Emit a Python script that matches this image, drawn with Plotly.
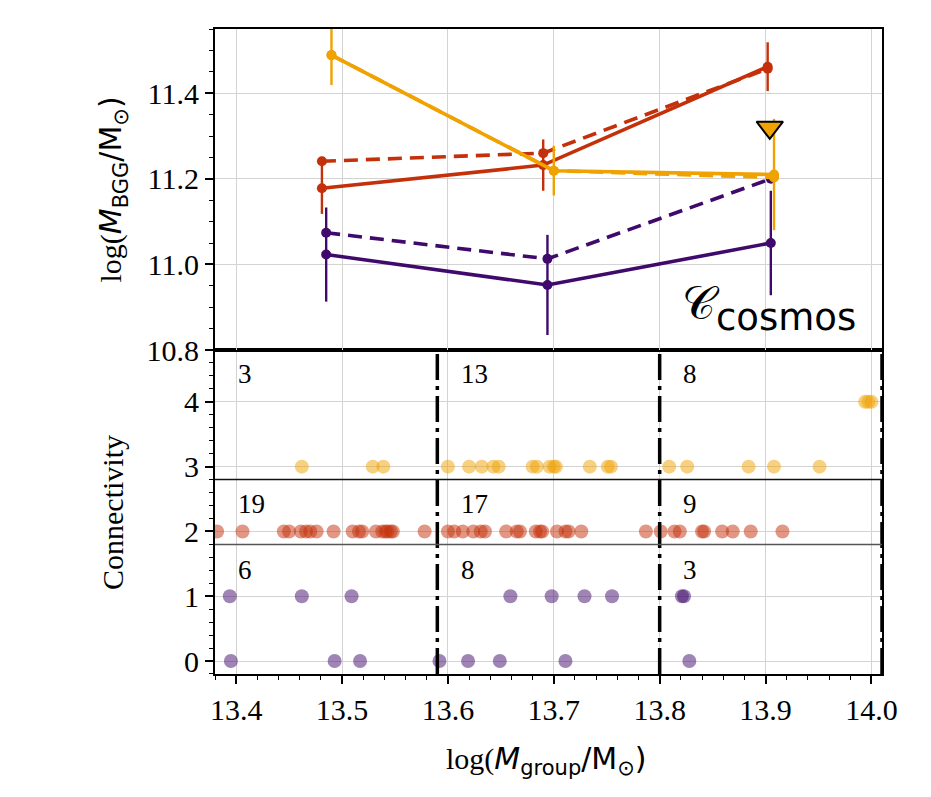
import plotly.graph_objects as go

# ---------------- data ----------------
# top panel: log M_BGG vs log M_group
purple_x = [13.485, 13.694, 13.905]
purple_solid_y = [11.023, 10.952, 11.050]
purple_solid_err = [0.110, 0.117, 0.122]
purple_dash_y = [11.074, 11.013, 11.200]

red_x = [13.481, 13.690, 13.902]
red_solid_y = [11.178, 11.232, 11.462]
red_solid_err = [0.060, 0.060, 0.057]
red_dash_y = [11.241, 11.260, 11.457]

yellow_x = [13.490, 13.700, 13.908]
yellow_solid_y = [11.489, 11.219, 11.210]
yellow_solid_err = [0.070, 0.058, 0.130]
yellow_dash_y = [11.489, 11.219, 11.203]

upper_limit_x = [13.904]
upper_limit_y = [11.320]

# bottom panel: connectivity of each group
yellow_mass = [13.462, 13.529, 13.539, 13.600, 13.620, 13.632, 13.643, 13.648,
               13.680, 13.684, 13.696, 13.700, 13.702, 13.734, 13.751, 13.754,
               13.809, 13.826, 13.884, 13.908, 13.951, 13.994, 13.997, 14.000]
yellow_conn = [3, 3, 3, 3, 3, 3, 3, 3,
               3, 3, 3, 3, 3, 3, 3, 3,
               3, 3, 3, 3, 3, 4, 4, 4]

red_mass = [13.382, 13.406, 13.445, 13.450, 13.461, 13.466, 13.470, 13.476,
            13.492, 13.510, 13.516, 13.519, 13.532, 13.538, 13.541, 13.543,
            13.546, 13.548, 13.578,
            13.600, 13.606, 13.614, 13.624, 13.631, 13.635, 13.655, 13.665,
            13.668, 13.683, 13.687, 13.689, 13.703, 13.711, 13.714, 13.726,
            13.787,
            13.801, 13.814, 13.819, 13.840, 13.842, 13.859, 13.869, 13.886,
            13.916]
red_conn = [2, 2, 2, 2, 2, 2, 2, 2, 2, 2, 2, 2, 2, 2, 2, 2, 2, 2, 2,
            2, 2, 2, 2, 2, 2, 2, 2, 2, 2, 2, 2, 2, 2, 2, 2, 2,
            2, 2, 2, 2, 2, 2, 2, 2, 2]

purple_mass = [13.394, 13.462, 13.509, 13.659, 13.698, 13.729, 13.755, 13.821,
               13.823,
               13.395, 13.493, 13.517, 13.592, 13.619, 13.649, 13.711, 13.828]
purple_conn = [1, 1, 1, 1, 1, 1, 1, 1, 1,
               0, 0, 0, 0, 0, 0, 0, 0]

bin_edges = [13.38, 13.59, 13.80, 14.01]
yellow_counts = [3, 13, 8, 0]
red_counts = [19, 17, 9, 0]
purple_counts = [6, 8, 3]
count_row_y = [4.43, 2.43, 1.41]
row_separators = [2.8, 1.8]

x_ticks = [13.4, 13.5, 13.6, 13.7, 13.8, 13.9, 14.0]
top_y_ticks = [10.8, 11.0, 11.2, 11.4]
bottom_y_ticks = [0, 1, 2, 3, 4]

# ---------------- style ----------------
PURPLE = "#3f0a6b"
RED = "#c4300a"
YELLOW = "#f0a202"
SERIF = "Liberation Serif"
SANS = "DejaVu Sans"
DASH = "14px,8px"

fig = go.Figure()

def line_trace(x, y, color, dash, err=None):
    kw = {}
    if err is not None:
        kw["error_y"] = dict(type="data", array=err, thickness=2.4, width=0, color=color)
    return go.Scatter(x=x, y=y, mode="lines+markers", xaxis="x2", yaxis="y2",
                      line=dict(color=color, width=3.6, dash=dash),
                      marker=dict(color=color, size=10),
                      showlegend=False, hoverinfo="skip", **kw)

fig.add_trace(line_trace(purple_x, purple_solid_y, PURPLE, "solid", purple_solid_err))
fig.add_trace(line_trace(purple_x, purple_dash_y, PURPLE, DASH))
fig.add_trace(line_trace(red_x, red_solid_y, RED, "solid", red_solid_err))
fig.add_trace(line_trace(red_x, red_dash_y, RED, DASH))
fig.add_trace(line_trace(yellow_x, yellow_solid_y, YELLOW, "solid", yellow_solid_err))
fig.add_trace(line_trace(yellow_x, yellow_dash_y, YELLOW, DASH))
fig.add_trace(go.Scatter(x=upper_limit_x, y=upper_limit_y, mode="markers",
                         xaxis="x2", yaxis="y2",
                         marker=dict(symbol="triangle-down", size=23, color=YELLOW,
                                     line=dict(color="black", width=2)),
                         showlegend=False, hoverinfo="skip"))

# bottom scatter
for mass, conn, col in [(yellow_mass, yellow_conn, YELLOW),
                        (red_mass, red_conn, RED),
                        (purple_mass, purple_conn, PURPLE)]:
    fig.add_trace(go.Scatter(x=mass, y=conn, mode="markers", xaxis="x", yaxis="y",
                             marker=dict(color=col, size=14, opacity=0.5,
                                         line=dict(width=0)),
                             showlegend=False, hoverinfo="skip"))

shapes = []
# dash-dot bin boundaries
for e in bin_edges[1:]:
    shapes.append(dict(type="line", xref="x", yref="y", x0=e, x1=e, y0=-0.2, y1=4.8,
                       line=dict(color="black", width=3.5, dash="26px,6px,4px,6px")))
# row separators
shapes.append(dict(type="line", xref="x domain", yref="y", x0=0, x1=1,
                   y0=row_separators[0], y1=row_separators[0],
                   line=dict(color="#111111", width=1.5)))
shapes.append(dict(type="line", xref="x domain", yref="y", x0=0, x1=1,
                   y0=row_separators[1], y1=row_separators[1],
                   line=dict(color="#555555", width=1.5)))

annotations = []
for counts, yrow in [(yellow_counts, count_row_y[0]), (red_counts, count_row_y[1]),
                     (purple_counts, count_row_y[2])]:
    for i, c in enumerate(counts):
        annotations.append(dict(x=bin_edges[i] + 0.02, y=yrow, xref="x", yref="y",
                                text=str(c), showarrow=False, xanchor="left",
                                yanchor="middle",
                                font=dict(family=SERIF, size=27, color="black")))

# calligraphic C label
annotations.append(dict(x=0.729, y=0.146, xref="x2 domain", yref="y2 domain",
                        text="𝒞", showarrow=False, xanchor="center", yanchor="middle",
                        font=dict(family=SANS, size=46, color="black")))
annotations.append(dict(x=0.964, y=0.10, xref="x2 domain", yref="y2 domain",
                        text="cosmos", showarrow=False, xanchor="right", yanchor="middle",
                        font=dict(family=SANS, size=37, color="black")))

# axis titles
annotations.append(dict(x=(113 - 215) / 667, y=0.5 * (0.5023 + 1), xref="paper", yref="paper",
                        text=("log(<span style='font-family:DejaVu Sans'><i>M</i>"
                              "<sub>BGG</sub>/M<sub>⊙</sub>)</span>"),
                        showarrow=False, textangle=-90, xanchor="center", yanchor="middle",
                        font=dict(family=SERIF, size=30, color="black")))
annotations.append(dict(x=(112 - 215) / 667, y=0.5023 / 2, xref="paper", yref="paper",
                        text="Connectivity", showarrow=False, textangle=-90,
                        xanchor="center", yanchor="middle",
                        font=dict(family=SERIF, size=30, color="black")))
annotations.append(dict(x=(546 - 215) / 667, y=-(760 - 674) / 645, xref="paper", yref="paper",
                        text=("log(<span style='font-family:DejaVu Sans'><i>M</i>"
                              "<sub>group</sub>/M<sub>⊙</sub>)</span>"),
                        showarrow=False, xanchor="center", yanchor="middle",
                        font=dict(family=SERIF, size=30, color="black")))

GRID = "#d3d3d3"
tickfont = dict(family=SERIF, size=30, color="black")

fig.update_layout(
    width=931, height=797,
    margin=dict(l=215, r=49, t=29, b=123),
    paper_bgcolor="white", plot_bgcolor="white",
    shapes=shapes, annotations=annotations,
    xaxis=dict(domain=[0, 1], anchor="y", range=[13.38, 14.01],
               tickvals=x_ticks, ticktext=[f"{v:.1f}" for v in x_ticks],
               ticks="outside", ticklen=8, tickwidth=1.5, tickcolor="black",
               minor=dict(dtick=0.02, tick0=13.4, ticks="outside", ticklen=4,
                          tickwidth=1, tickcolor="black", showgrid=False),
               showgrid=True, gridcolor=GRID, gridwidth=1,
               showline=True, linecolor="black", linewidth=2, mirror=True,
               zeroline=False, tickfont=tickfont),
    yaxis=dict(domain=[0, 0.5023], anchor="x", range=[-0.2, 4.8],
               tickvals=bottom_y_ticks,
               ticks="outside", ticklen=8, tickwidth=1.5, tickcolor="black",
               minor=dict(dtick=0.2, tick0=0, ticks="outside", ticklen=4,
                          tickwidth=1, tickcolor="black", showgrid=False),
               showgrid=True, gridcolor=GRID, gridwidth=1,
               showline=True, linecolor="black", linewidth=2, mirror=True,
               zeroline=False, tickfont=tickfont),
    xaxis2=dict(domain=[0, 1], anchor="y2", range=[13.38, 14.01], matches="x",
                tickvals=x_ticks, showticklabels=False, ticks="",
                showgrid=True, gridcolor=GRID, gridwidth=1.2,
                showline=True, linecolor="black", linewidth=2, mirror=True,
                zeroline=False),
    yaxis2=dict(domain=[0.5023, 1], anchor="x2", range=[10.8, 11.55],
                tickvals=top_y_ticks, ticktext=[f"{v:.1f}" for v in top_y_ticks],
                ticks="outside", ticklen=8, tickwidth=1.5, tickcolor="black",
                minor=dict(dtick=0.05, tick0=10.8, ticks="outside", ticklen=4,
                           tickwidth=1, tickcolor="black", showgrid=False),
                showgrid=True, gridcolor=GRID, gridwidth=1.2,
                showline=True, linecolor="black", linewidth=2, mirror=True,
                zeroline=False, tickfont=tickfont),
)

fig.write_html("out.html")
